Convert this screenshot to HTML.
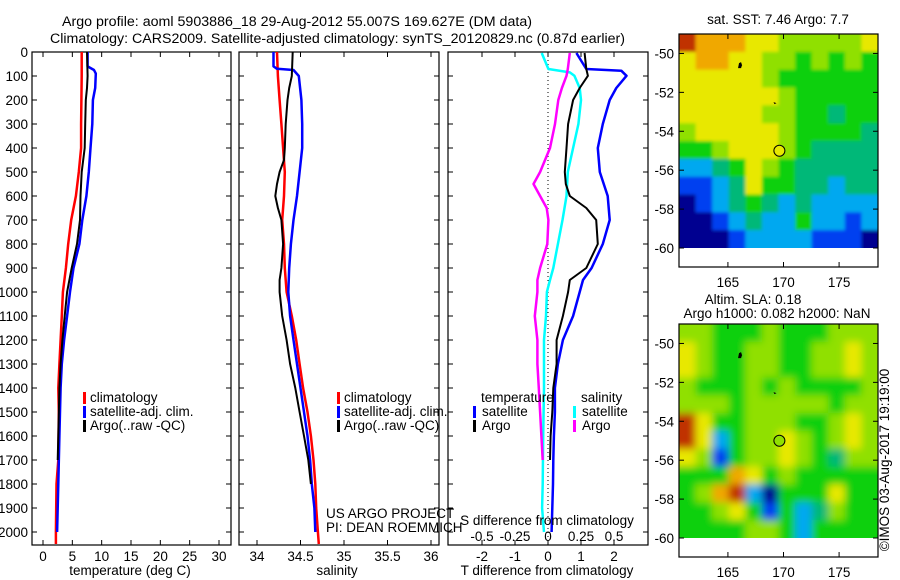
<!DOCTYPE html>
<html><head><meta charset="utf-8"><style>
html,body{margin:0;padding:0;background:#fff;}
svg{display:block;font-family:"Liberation Sans",sans-serif;}
text{font-size:13.5px;fill:#000;}
</style></head><body>
<svg id="fig" width="900" height="580" viewBox="0 0 900 580">
<defs>
<clipPath id="clipTop"><rect x="679" y="34" width="199" height="214"/></clipPath>
<clipPath id="clipBot"><rect x="679" y="324" width="199" height="214"/></clipPath>
<filter id="blur" x="-5%" y="-5%" width="110%" height="110%"><feGaussianBlur stdDeviation="4"/></filter>
<filter id="blur2"><feGaussianBlur stdDeviation="1.5"/></filter>
</defs>
<text x="62" y="26" textLength="470" lengthAdjust="spacingAndGlyphs">Argo profile: aoml 5903886_18 29-Aug-2012 55.007S 169.627E (DM data)</text>
<text x="50" y="43" textLength="575" lengthAdjust="spacingAndGlyphs">Climatology: CARS2009. Satellite-adjusted climatology: synTS_20120829.nc (0.87d earlier)</text>
<g id="layer"></g>
</svg>
<script>
// ---------- data ----------
const depthTicks = [0,100,200,300,400,500,600,700,800,900,1000,1100,1200,1300,1400,1500,1600,1700,1800,1900,2000];
const tempTicks = [0,5,10,15,20,25,30];
const salTicks = [34,34.5,35,35.5,36];
const salTickLabels = ["34","34.5","35","35.5","36"];
const tdTicks = [-2,-1,0,1,2];
const sdTicks = [-0.5,-0.25,0,0.25,0.5];
const sdTickLabels = ["-0.5","-0.25","0","0.25","0.5"];

const tClimDepth = [0,100,300,400,500,600,700,800,900,1000,1100,1200,1300,1400,1500,1700,1800,2000,2050];
const tClimVal   = [6.6,6.6,6.5,6.5,6.1,5.6,4.8,4.3,3.9,3.4,3.2,3.0,2.8,2.6,2.7,2.6,2.3,2.2,2.2];
const tSatDepth = [0,60,75,90,150,200,300,400,500,600,700,800,900,1000,1100,1200,1300,1400,1500,1600,1800,2000];
const tSatVal   = [7.6,7.6,8.7,9.0,8.9,8.5,8.4,8.1,7.8,7.4,6.7,6.2,5.2,4.6,4.1,3.6,3.2,3.0,2.9,2.8,2.6,2.4];
const tArgoDepth = [0,100,150,200,300,400,500,600,700,800,900,1000,1100,1200,1300,1400,1600,1700];
const tArgoVal   = [7.5,7.6,7.5,7.3,7.2,7.1,6.6,6.4,6.3,5.8,4.9,4.1,3.7,3.3,3.0,2.8,2.6,2.5];

const sClimDepth = [0,100,200,300,400,500,600,700,800,900,1000,1100,1200,1300,1400,1500,1600,1700,1800,1900,2000,2050];
const sClimVal   = [34.23,34.24,34.26,34.28,34.30,34.32,34.31,34.29,34.31,34.32,34.34,34.40,34.45,34.49,34.53,34.58,34.62,34.65,34.67,34.68,34.70,34.71];
const sSatDepth = [0,60,70,75,100,200,300,400,500,600,700,800,900,1000,1100,1200,1300,1400,1500,1600,1700,1800,1900,2000];
const sSatVal   = [34.19,34.19,34.23,34.42,34.48,34.51,34.52,34.52,34.49,34.46,34.42,34.39,34.37,34.36,34.38,34.42,34.46,34.50,34.54,34.58,34.61,34.63,34.66,34.67];
const sArgoDepth = [0,100,150,200,300,400,450,500,550,600,650,700,800,900,950,1000,1100,1200,1300,1400,1500,1600,1700,1800];
const sArgoVal   = [34.41,34.40,34.37,34.35,34.33,34.32,34.31,34.26,34.23,34.21,34.24,34.28,34.30,34.28,34.26,34.26,34.29,34.34,34.38,34.44,34.49,34.54,34.59,34.62];

const dTSatDepth = [4,71,78,99,150,200,300,400,500,600,700,800,900,950,1000,1100,1200,1300,1400,1500,1600,1700,1800,1900,2000];
const dTSatVal   = [0.86,1.16,2.22,2.38,2.07,1.87,1.66,1.51,1.57,1.81,1.87,1.66,1.32,1.06,0.96,0.76,0.45,0.30,0.21,0.21,0.18,0.16,0.15,0.13,0.11];
const dTArgoDepth = [4,71,99,150,200,300,400,500,550,600,650,700,800,900,950,1000,1100,1200,1300,1400,1500,1600,1700];
const dTArgoVal   = [1.11,1.16,1.21,0.96,0.76,0.61,0.56,0.51,0.54,0.66,1.16,1.46,1.51,1.16,0.66,0.61,0.45,0.26,0.26,0.16,0.13,0.08,0.06];
const dSSatDepth = [4,71,85,99,150,200,300,400,500,600,700,800,900,950,1000,1100,1200,1400,1600,1800,1900,2000];
const dSSatVal   = [-0.048,0.003,0.165,0.20,0.24,0.25,0.23,0.19,0.15,0.14,0.11,0.075,0.04,0.015,-0.008,-0.015,-0.03,-0.03,-0.036,-0.04,-0.045,-0.03];
const dSArgoDepth = [4,71,99,150,200,300,400,500,550,600,650,700,800,900,950,1000,1100,1200,1300,1400,1500,1600,1700];
const dSArgoVal   = [0.165,0.15,0.14,0.105,0.078,0.053,0.015,-0.06,-0.11,-0.06,-0.01,0.003,-0.005,-0.06,-0.08,-0.08,-0.10,-0.08,-0.08,-0.07,-0.06,-0.05,-0.04];

const mapPalette = ['#000090','#0040f0','#00a8f0','#00b878','#10d010','#90e000','#e8e800','#f0a800','#c03000'];
const sstGrid = [
[8,7,7,7,6,6,5,5,5,5,5,6],
[6,7,7,6,6,5,5,4,5,4,5,4],
[6,6,6,6,6,5,4,4,4,4,4,4],
[6,6,6,6,6,6,5,4,4,4,4,4],
[6,6,6,6,6,5,5,4,4,3,4,4],
[5,6,6,6,6,6,5,4,4,4,4,3],
[4,4,5,6,6,6,5,4,3,3,3,3],
[2,2,3,4,6,5,4,3,3,3,3,3],
[1,1,2,3,6,4,4,3,3,2,3,3],
[0,1,2,3,4,3,2,3,2,2,2,2],
[0,0,1,2,3,2,2,4,2,2,1,2],
[0,0,0,1,2,2,2,2,1,1,1,0]];
const slaGrid = [
[5,5,4,4,4,5,4,4,4,5,5,5],
[6,5,4,4,5,5,4,4,5,5,6,5],
[6,5,4,4,5,5,4,4,5,5,6,5],
[5,4,4,4,5,4,5,4,4,4,4,5],
[5,5,5,4,5,5,5,5,5,4,5,5],
[8,6,4,4,5,5,5,4,4,5,6,5],
[8,6,2,4,5,5,6,5,4,5,6,5],
[6,5,1,4,5,5,6,5,4,3,5,5],
[4,4,4,7,6,4,5,4,4,4,4,4],
[4,5,7,8,2,0,4,4,4,6,4,4],
[4,4,5,6,4,1,4,2,3,5,4,4],
[4,4,4,4,5,5,4,2,4,4,4,4]];
const latTicks = [-50,-52,-54,-56,-58,-60];
const lonTicks = [165,170,175];
const floatLon = [169.63];
const floatLat = [-55.0];

// ---------- helpers ----------
const NS = 'http://www.w3.org/2000/svg';
const layer = document.getElementById('layer');
function el(tag, attrs, parent){
  const e = document.createElementNS(NS, tag);
  for (const k in attrs) e.setAttribute(k, attrs[k]);
  (parent||layer).appendChild(e);
  return e;
}
function lin(d0,d1,r0,r1){ return v => r0 + (v-d0)*(r1-r0)/(d1-d0); }
const yDepth = lin(0,2000,52,532);
const PT=52, PB=545;

function panelFrame(x0,x1,name){
  const r = el('rect',{x:x0,y:PT,width:x1-x0,height:PB-PT,fill:'none',stroke:'#000','stroke-width':1.2});
  
  
  depthTicks.forEach(d=>{
    const y=yDepth(d);
    const t1=el('line',{x1:x0,x2:x0+5,y1:y,y2:y,stroke:'#000'});
    
    
    const t2=el('line',{x1:x1,x2:x1-5,y1:y,y2:y,stroke:'#000'});
    
    
  });
}
function xTicks(xs, sx, labels, ly){
  xs.forEach((v,i)=>{
    const x=sx(v);
    const a=el('line',{x1:x,x2:x,y1:PB,y2:PB-5,stroke:'#000'});
    
    
    const b=el('line',{x1:x,x2:x,y1:PT,y2:PT+5,stroke:'#000'});
    
    
    if (labels){
      const t=el('text',{x:x,y:ly,'text-anchor':'middle'});
      t.textContent=labels[i];
      
      
    }
  });
}
function series(depths, vals, sx, color, w, name){
  const pts = depths.map((d,i)=>sx(vals[i]).toFixed(1)+','+yDepth(d).toFixed(1)).join(' ');
  const p = el('polyline',{points:pts,fill:'none',stroke:color,'stroke-width':w,'stroke-linejoin':'round'});
  
  
}
function txt(x,y,s,name,anchor){
  const t=el('text',{x:x,y:y,'text-anchor':anchor||'start'});
  t.textContent=s;
  
  
  return t;
}
function legBar(x,y,color,name){
  const r=el('rect',{x:x,y:y-10,width:3,height:12,fill:color});
  
  
}

// ---------- panel 1: temperature ----------
const sxT = lin(0,30,43,219);
panelFrame(32,231,'temperature-panel');
depthTicks.forEach(d=>{ txt(28,yDepth(d)+5,String(d),'y-tick-label','end'); });
xTicks(tempTicks, sxT, tempTicks.map(String), 561);
txt(130,575,'temperature (deg C)','x-axis-title-temperature','middle');
series(tClimDepth,tClimVal,sxT,'#ff0000',2.5,'temp-climatology-line');
series(tSatDepth,tSatVal,sxT,'#0000ff',2.5,'temp-satellite-line');
series(tArgoDepth,tArgoVal,sxT,'#000000',2,'temp-argo-line');
legBar(83,402,'#ff0000','legend-swatch-climatology');
txt(90,402,'climatology','legend-entry-climatology');
legBar(83,416,'#0000ff','legend-swatch-satellite');
txt(90,416,'satellite-adj. clim.','legend-entry-satellite');
legBar(83,430,'#000000','legend-swatch-argo');
txt(90,430,'Argo(..raw -QC)','legend-entry-argo');

// ---------- panel 2: salinity ----------
const sxS = lin(34,36,257,431);
panelFrame(239,439,'salinity-panel');
xTicks(salTicks, sxS, salTickLabels, 561);
txt(337,575,'salinity','x-axis-title-salinity','middle');
series(sClimDepth,sClimVal,sxS,'#ff0000',2.5,'sal-climatology-line');
series(sSatDepth,sSatVal,sxS,'#0000ff',2.5,'sal-satellite-line');
series(sArgoDepth,sArgoVal,sxS,'#000000',2,'sal-argo-line');
legBar(337,402,'#ff0000','legend-swatch-climatology');
txt(344,402,'climatology','legend-entry-climatology');
legBar(337,416,'#0000ff','legend-swatch-satellite');
txt(344,416,'satellite-adj. clim.','legend-entry-satellite');
legBar(337,430,'#000000','legend-swatch-argo');
txt(344,430,'Argo(..raw -QC)','legend-entry-argo');
txt(326,518,'US ARGO PROJECT','project-credit');
txt(326,532,'PI: DEAN ROEMMICH','pi-credit');

// ---------- panel 3: differences ----------
const sxDT = lin(0,2,548,614);
const sxDS = lin(0,0.5,548,614);
panelFrame(448,648,'difference-panel');
xTicks(tdTicks, sxDT, tdTicks.map(String), 561);
const zl = el('line',{x1:sxDT(0),x2:sxDT(0),y1:PT,y2:PB,stroke:'#000','stroke-dasharray':'1,3'});


series(dSSatDepth,dSSatVal,sxDS,'#00ffff',2.5,'sdiff-satellite-line');
series(dSArgoDepth,dSArgoVal,sxDS,'#ff00ff',2.5,'sdiff-argo-line');
series(dTSatDepth,dTSatVal,sxDT,'#0000ff',2.5,'tdiff-satellite-line');
series(dTArgoDepth,dTArgoVal,sxDT,'#000000',2,'tdiff-argo-line');
sdTicks.forEach((v,i)=>{ txt(sxDS(v),541,sdTickLabels[i],'s-tick-label','middle'); });
txt(547,525,'S difference from climatology','s-axis-title','middle');
txt(547,575,'T difference from climatology','t-axis-title','middle');
txt(481,402,'temperature','legend-title-temperature');
legBar(473,416,'#0000ff','legend-swatch-t-satellite');
txt(482,416,'satellite','legend-entry-t-satellite');
legBar(473,430,'#000000','legend-swatch-t-argo');
txt(482,430,'Argo','legend-entry-t-argo');
txt(581,402,'salinity','legend-title-salinity');
legBar(573,416,'#00ffff','legend-swatch-s-satellite');
txt(582,416,'satellite','legend-entry-s-satellite');
legBar(573,430,'#ff00ff','legend-swatch-s-argo');
txt(582,430,'Argo','legend-entry-s-argo');

// ---------- maps ----------
function drawMap(grid, top, clipId, blurred, title1, title2, circleFill, name){
  const lonX = lin(160.6,178.5,679,878);
  const latY = lin(-49,-60,top,top+214);
  const g = el('g',{'clip-path':'url(#'+clipId+')'});
  
  
  const inner = el('g', blurred?{filter:'url(#blur)'}:{filter:'url(#blur2)'}, g);
  const nr=grid.length, nc=grid[0].length;
  const dLon=(178.5-160.6)/nc, dLat=11/nr;
  grid.forEach((row,r)=>row.forEach((v,c)=>{
    const x0=lonX(160.6+c*dLon), x1=lonX(160.6+(c+1)*dLon);
    const y0=latY(-49-r*dLat), y1=latY(-49-(r+1)*dLat);
    const pad = 8;
    const ex0 = c===0?x0-pad:x0, ey0=r===0?y0-pad:y0;
    const ex1 = c===nc-1?x1+pad:x1, ey1=r===nr-1?y1+pad:y1;
    const cell = el('rect',{x:ex0,y:ey0,width:ex1-ex0+0.6,height:ey1-ey0+0.6,fill:mapPalette[v]},inner);
    
    
  }));
  const isl1 = el('path',{d:'M'+lonX(166.0)+' '+latY(-50.5)+' l2 -1 l1 3 l-1 3 l-3 0 z',fill:'#000'});
  
  
  const isl2 = el('path',{d:'M'+lonX(169.1)+' '+latY(-52.5)+' l3 1 l-2 1 z',fill:'#000'});
  
  
  const frame = el('rect',{x:679,y:top,width:199,height:233,fill:'none',stroke:'#000','stroke-width':1.2});
  
  
  latTicks.forEach(l=>{
    const y=latY(l);
    el('line',{x1:679,x2:684,y1:y,y2:y,stroke:'#000'});
    el('line',{x1:878,x2:873,y1:y,y2:y,stroke:'#000'});
    txt(674,y+5,String(l),'lat-tick-label','end');
  });
  lonTicks.forEach(l=>{
    const x=lonX(l);
    el('line',{x1:x,x2:x,y1:top,y2:top+5,stroke:'#000'});
    el('line',{x1:x,x2:x,y1:top+233,y2:top+228,stroke:'#000'});
    txt(x,top+253,String(l),'lon-tick-label','middle');
  });
  floatLon.forEach((lo,i)=>{
    const c = el('circle',{cx:lonX(lo),cy:latY(floatLat[i]),r:5.5,fill:circleFill,stroke:'#000','stroke-width':1});
    
    
  });
  if (title2){
    txt(753,top-20,title1,name+'-title-1','middle');
    txt(777,top-6,title2,name+'-title-2','middle');
  } else {
    txt(778,top-10,title1,name+'-title','middle');
  }
}
drawMap(sstGrid, 34, 'clipTop', false, 'sat. SST: 7.46 Argo: 7.7', null, '#e8e800', 'sst-map');
drawMap(slaGrid, 324, 'clipBot', true, 'Altim. SLA: 0.18', 'Argo h1000: 0.082 h2000: NaN', '#90e000', 'sla-map');

const cr = el('text',{x:0,y:0,transform:'translate(889,460) rotate(-90)','text-anchor':'middle'});
cr.textContent='\u00A9IMOS 03-Aug-2017 19:19:00';


</script>
</body></html>
